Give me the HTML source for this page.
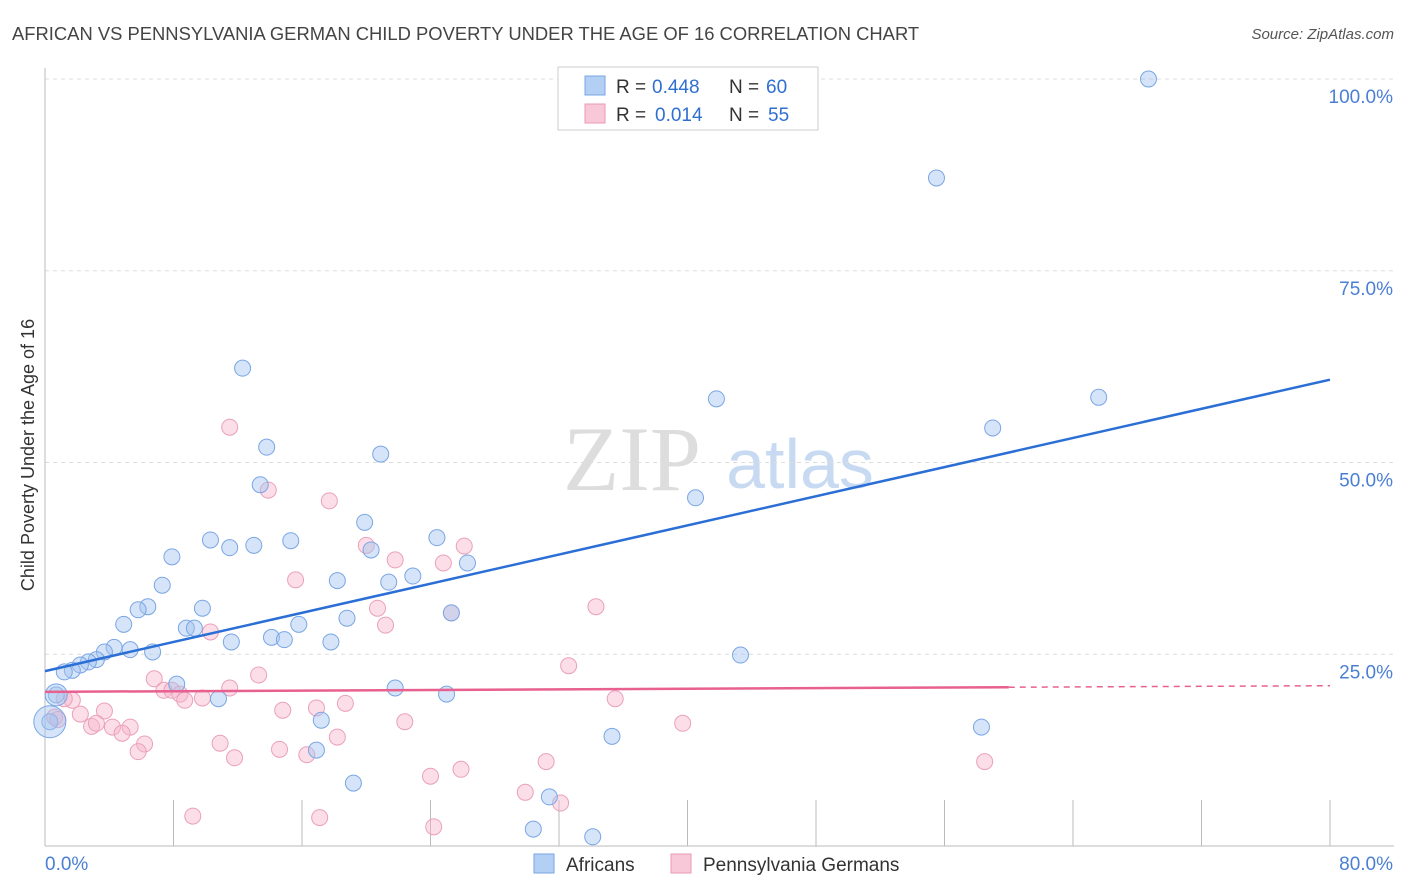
<!DOCTYPE html>
<html><head><meta charset="utf-8"><style>
body{margin:0;background:#fff;font-family:"Liberation Sans",sans-serif;}
svg{display:block}
</style></head><body>
<svg id="chart" width="1406" height="892" xmlns="http://www.w3.org/2000/svg">
<text x="12" y="40" font-size="18.4" fill="#444" font-family="Liberation Sans, sans-serif">AFRICAN VS PENNSYLVANIA GERMAN CHILD POVERTY UNDER THE AGE OF 16 CORRELATION CHART</text>
<text x="1394" y="39" font-size="15" fill="#555" text-anchor="end" font-style="italic">Source: ZipAtlas.com</text>
<g>
<text x="632" y="490" font-size="92" fill="#ddd" font-family="Liberation Serif, serif" text-anchor="middle">ZIP</text>
<text x="800" y="488" font-size="70" fill="#c8daf2" text-anchor="middle">atlas</text>
</g>
<g id="grid"></g>
<g id="axes"></g>
<g id="marks"></g>
<text transform="translate(34,455) rotate(-90)" font-size="18" fill="#333" text-anchor="middle">Child Poverty Under the Age of 16</text>
<g>
<rect x="558" y="67" width="260" height="63" fill="#fff" stroke="#ccc"/>
<rect x="585" y="76" width="20" height="19" fill="#b4cff4" stroke="#7aa6e4"/>
<text x="616" y="93" font-size="19" fill="#333">R =</text>
<text x="652" y="93" font-size="19" fill="#2f6fd0">0.448</text>
<text x="729" y="93" font-size="19" fill="#333">N =</text>
<text x="766" y="93" font-size="19" fill="#2f6fd0">60</text>
<rect x="585" y="104" width="20" height="19" fill="#f8c8d8" stroke="#e89ab4"/>
<text x="616" y="121" font-size="19" fill="#333">R =</text>
<text x="655" y="121" font-size="19" fill="#2f6fd0">0.014</text>
<text x="729" y="121" font-size="19" fill="#333">N =</text>
<text x="768" y="121" font-size="19" fill="#2f6fd0">55</text>
</g>
<g>
<rect x="534" y="854" width="20" height="19" fill="#b4cff4" stroke="#7aa6e4"/>
<text x="566" y="871" font-size="19" fill="#333">Africans</text>
<rect x="671" y="854" width="20" height="19" fill="#f8c8d8" stroke="#e89ab4"/>
<text x="703" y="871" font-size="19" fill="#333">Pennsylvania Germans</text>
</g>
</svg>
<script>
const yTicks=[25,50,75,100];
const xTickLabels=["0.0%","80.0%"];
const africanX=[68.7,55.5,12.3,41.8,65.6,59.0,13.8,20.9,13.4,40.5,19.9,10.3,11.5,13.0,15.3,24.4,7.9,20.3,26.3,7.3,22.9,18.2,21.4,6.4,5.8,9.8,25.3,18.8,15.8,4.9,8.8,9.3,14.1,14.9,11.6,17.8,4.3,3.7,5.3,6.7,43.3,3.2,2.7,2.2,1.7,1.2,8.2,21.8,25.0,10.8,0.7,17.2,58.3,35.3,16.9,19.2,31.4,30.4,34.1,0.3];
const africanY=[100,87.1,62.3,58.3,58.5,54.5,52.0,51.1,47.1,45.4,42.2,39.9,38.9,39.2,39.8,40.2,37.7,38.6,36.9,34.0,35.2,34.6,34.4,31.2,30.8,31.0,30.4,29.7,28.9,28.9,28.4,28.4,27.2,26.9,26.6,26.6,25.9,25.3,25.6,25.3,24.9,24.3,24.0,23.6,22.9,22.7,21.1,20.6,19.8,19.2,19.7,16.4,15.5,14.3,12.5,8.2,6.4,2.2,1.2,16.2];
const germanX=[11.5,13.9,17.7,20.0,26.1,21.8,24.8,15.6,20.7,34.3,25.3,21.2,10.3,32.6,13.3,6.8,7.4,7.9,8.4,8.7,9.8,11.5,18.7,16.9,14.8,35.5,1.7,1.2,2.2,3.7,2.9,3.2,5.3,4.2,22.4,39.7,0.6,4.8,18.2,6.2,10.9,14.6,16.3,5.8,11.8,31.2,25.9,24.0,58.5,29.9,32.1,9.2,17.1,24.2,0.8];
const germanY=[54.6,46.4,45.0,39.2,39.1,37.3,36.9,34.7,31.0,31.2,30.4,28.8,27.9,23.5,22.3,21.8,20.3,20.3,19.8,19.0,19.3,20.6,18.6,18.0,17.7,19.2,19.0,19.2,17.2,17.6,15.6,16.0,15.5,15.5,16.2,16.0,16.8,14.7,14.2,13.3,13.4,12.6,11.9,12.3,11.5,11.0,10.0,9.1,11.0,7.0,5.6,3.9,3.7,2.5,16.5];
const africanTrend=[22.8,60.8];
const germanTrend=[20.1,20.9];
const NS="http://www.w3.org/2000/svg";
const X=v=>45+v*16.0625, Y=v=>846-v*7.67;
function mk(p,t,a){const e=document.createElementNS(NS,t);for(const k in a)e.setAttribute(k,a[k]);p.appendChild(e);return e;}
const grid=document.getElementById('grid'),axes=document.getElementById('axes'),marks=document.getElementById('marks');
yTicks.forEach(t=>{
 const l=mk(grid,'line',{x1:45,x2:1394,y1:Y(t),y2:Y(t),stroke:'#ddd','stroke-dasharray':'4,4'});
 
 
 const tx=mk(grid,'text',{x:1393,y:Y(t)+24,'font-size':19,fill:'#4a7fd4','text-anchor':'end'});tx.textContent=t.toFixed(1)+'%';
 
 
});
mk(axes,'line',{x1:45,x2:45,y1:68,y2:846,stroke:'#bbb'});
mk(axes,'line',{x1:45,x2:1394,y1:846,y2:846,stroke:'#bbb'});
for(let i=1;i<=10;i++){const x=X(i*8);mk(axes,'line',{x1:x,x2:x,y1:800,y2:846,stroke:'#bbb'});}
const xl0=mk(axes,'text',{x:45,y:870,'font-size':19,fill:'#4a7fd4'});xl0.textContent=xTickLabels[0];


const xl1=mk(axes,'text',{x:1393,y:870,'font-size':19,fill:'#4a7fd4','text-anchor':'end'});xl1.textContent=xTickLabels[1];


germanX.forEach((x,i)=>{const c=mk(marks,'circle',{cx:X(x),cy:Y(germanY[i]),r:8,fill:'rgba(246,182,204,0.45)',stroke:'#eba0bb','stroke-width':1});
 
 });
africanX.forEach((x,i)=>{const c=mk(marks,'circle',{cx:X(x),cy:Y(africanY[i]),r:8,fill:'rgba(162,196,240,0.45)',stroke:'#7aa6e4','stroke-width':1});
 
 });
const big1=mk(marks,'circle',{cx:X(africanX[59]),cy:Y(africanY[59]),r:16,fill:'rgba(162,196,240,0.45)',stroke:'#7aa6e4','stroke-width':1});


const big2=mk(marks,'circle',{cx:X(africanX[50]),cy:Y(africanY[50]),r:11,fill:'rgba(162,196,240,0.45)',stroke:'#7aa6e4','stroke-width':1});


const bl=mk(marks,'line',{x1:X(0),y1:Y(africanTrend[0]),x2:X(80),y2:Y(africanTrend[1]),stroke:'#2b6fd6','stroke-width':2.5});


const gy=x=>germanTrend[0]+(germanTrend[1]-germanTrend[0])*x/80;
const pl=mk(marks,'line',{x1:X(0),y1:Y(gy(0)),x2:X(60),y2:Y(gy(60)),stroke:'#e8608f','stroke-width':2.5});


const pd=mk(marks,'line',{x1:X(60),y1:Y(gy(60)),x2:X(80),y2:Y(gy(80)),stroke:'#e8608f','stroke-width':1.5,'stroke-dasharray':'6,5'});


</script>
</body></html>
